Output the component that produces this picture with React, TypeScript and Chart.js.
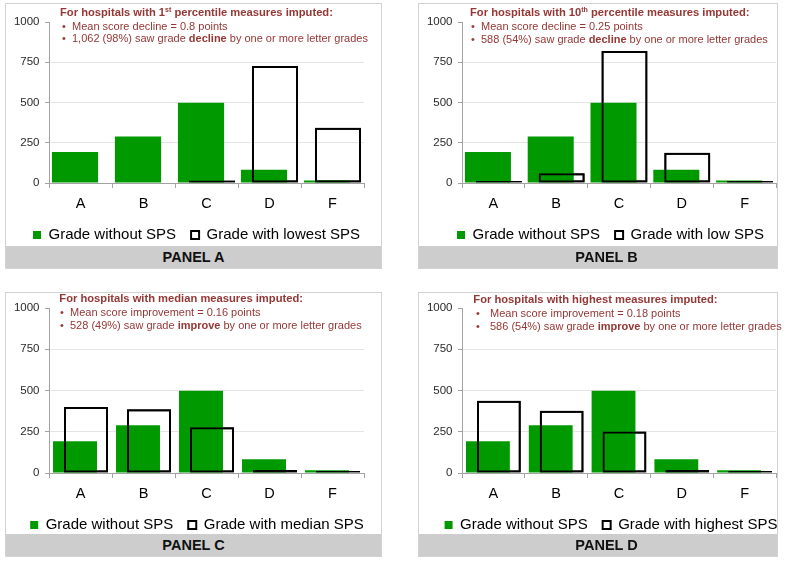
import React, { useEffect, useRef } from 'react';
import { Chart, registerables } from 'chart.js';

Chart.register(...registerables);

// ---------------- data ----------------
const grades = ['A', 'B', 'C', 'D', 'F'];
const yTickValues = [0, 250, 500, 750, 1000];
const gradeWithoutSPS = [192, 289, 498, 83, 16];
const gradeWithLowestSPS = [0, 0, 15, 727, 343];
const gradeWithLowSPS = [3, 60, 820, 188, 10];
const gradeWithMedianSPS = [400, 386, 277, 18, 3];
const gradeWithHighestSPS = [438, 378, 251, 18, 3];

const baseSeriesLabel = 'Grade without SPS';
const compareSeriesLabels = [
  'Grade with lowest SPS',
  'Grade with low SPS',
  'Grade with median SPS',
  'Grade with highest SPS',
];
const panelTitles = ['PANEL A', 'PANEL B', 'PANEL C', 'PANEL D'];
const headingMain = [
  'For hospitals with 1',
  'For hospitals with 10',
  'For hospitals with median measures imputed:',
  'For hospitals with highest measures imputed:',
];
const headingSup = ['st', 'th', '', ''];
const headingTail = [' percentile measures imputed:', ' percentile measures imputed:', '', ''];
const meanScoreNotes = [
  'Mean score decline = 0.8 points',
  'Mean score decline = 0.25 points',
  'Mean score improvement = 0.16 points',
  'Mean score improvement = 0.18 points',
];
const changeCounts = ['1,062 (98%)', '588 (54%)', '528 (49%)', '586 (54%)'];
const changeWords = ['decline', 'decline', 'improve', 'improve'];

const compareSeries = [gradeWithLowestSPS, gradeWithLowSPS, gradeWithMedianSPS, gradeWithHighestSPS];

// ---------------- styling / layout ----------------
const FONT = "'Liberation Sans', Arial, Helvetica, sans-serif";
const GREEN = '#009a00';
const NOTE_COLOR = '#953735';
const AXIS_COLOR = '#a3a3a3';
const GRID_COLOR = '#e4e4e4';

const frames = [
  { left: 5, top: 3, width: 377, height: 266, canvasW: 375, padTop: 18, padLeft: 6, yWidth: 37, rightGap: 17, xHeight: 29.5, padBottom: 15.5, barPct: 4.2, noteTop: 1.7, noteLH: 12, headX: 54, bulletX: 56, textX: 66 },
  { left: 418, top: 3, width: 360, height: 266, canvasW: 380, padTop: 18, padLeft: 3, yWidth: 40, rightGap: 23, xHeight: 29.5, padBottom: 15.5, barPct: 4.2, noteTop: 2.2, noteLH: 13, headX: 51, bulletX: 52, textX: 62 },
  { left: 5, top: 292, width: 377, height: 265, canvasW: 375, padTop: 15, padLeft: 7, yWidth: 36, rightGap: 17, xHeight: 29.5, padBottom: 13.5, barPct: 4.0, noteTop: -0.6, noteLH: 13.3, headX: 53.3, bulletX: 54, textX: 64 },
  { left: 418, top: 292, width: 360, height: 265, canvasW: 380, padTop: 15, padLeft: 4, yWidth: 39, rightGap: 23, xHeight: 29.5, padBottom: 13.5, barPct: 4.0, noteTop: 0.3, noteLH: 13.3, headX: 54.3, bulletX: 57, textX: 71 },
];
const CAT_PCT = 0.349;

const outlineOnTop = {
  id: 'outlineOnTop',
  afterDatasetsDraw(chart: any) {
    const meta = chart.getDatasetMeta(1);
    if (meta && meta.controller) meta.controller.draw();
  },
};

function Panel({ idx }: { idx: number }) {
  const ref = useRef<HTMLCanvasElement | null>(null);
  const f = frames[idx];
  const innerW = f.width - 2;
  const innerH = f.height - 2;

  useEffect(() => {
    if (!ref.current) return;
    const compare = compareSeries[idx];
    const chart = new Chart(ref.current, {
      type: 'bar',
      data: {
        labels: grades,
        datasets: [
          {
            label: baseSeriesLabel,
            data: gradeWithoutSPS,
            backgroundColor: GREEN,
            borderWidth: 0,
            categoryPercentage: CAT_PCT,
            barPercentage: f.barPct,
          },
          {
            label: compareSeriesLabels[idx],
            data: compare.map((v) => (v === 0 ? null : v)),
            backgroundColor: 'rgba(255,255,255,0)',
            borderColor: '#000000',
            borderWidth: 2,
            borderSkipped: false,
            minBarLength: 2,
            categoryPercentage: CAT_PCT,
            barPercentage: f.barPct,
          },
        ],
      } as any,
      options: {
        responsive: false,
        animation: false,
        events: [],
        layout: { padding: { top: f.padTop, left: f.padLeft, right: 0, bottom: f.padBottom } },
        plugins: {
          tooltip: { enabled: false },
          title: { display: false },
          legend: {
            display: true,
            position: 'bottom',
            labels: {
              boxWidth: 8,
              boxHeight: 8,
              padding: 15,
              color: '#000000',
              font: { family: FONT, size: 15 },
            },
          },
        },
        scales: {
          x: {
            type: 'category',
            offset: true,
            grid: {
              display: true,
              offset: true,
              drawOnChartArea: false,
              drawTicks: true,
              tickLength: 5,
              color: AXIS_COLOR,
            },
            border: { display: true, color: AXIS_COLOR, width: 1 },
            ticks: { color: '#000000', padding: 7, font: { family: FONT, size: 14.5 }, maxRotation: 0 },
            afterFit: (s: any) => {
              s.height = f.xHeight;
            },
          },
          y: {
            type: 'linear',
            min: 0,
            max: 1000,
            afterBuildTicks: (s: any) => {
              s.ticks = yTickValues.map((v) => ({ value: v }));
            },
            grid: {
              color: (c: any) => (c.tick && c.tick.value === 1000 ? 'rgba(0,0,0,0)' : GRID_COLOR),
              tickColor: AXIS_COLOR,
              tickLength: 4,
              drawTicks: true,
            },
            border: { display: true, color: AXIS_COLOR, width: 1 },
            ticks: {
              color: '#2a2a2a',
              padding: 5.5,
              font: { family: FONT, size: 11.5 },
              callback: (v: any) => String(v),
            },
            afterFit: (s: any) => {
              s.width = f.yWidth;
            },
          },
          spacer: {
            type: 'linear',
            position: 'right',
            display: true,
            grid: { display: false, drawTicks: false },
            border: { display: false },
            ticks: { display: false },
            afterFit: (s: any) => {
              s.width = f.rightGap;
            },
          },
        },
      } as any,
      plugins: [outlineOnTop],
    });
    return () => chart.destroy();
  }, [idx]);

  return (
    <div
      style={{
        position: 'absolute',
        left: f.left,
        top: f.top,
        width: f.width,
        height: f.height,
        boxSizing: 'border-box',
        border: '1px solid #d2d2d2',
        background: '#ffffff',
      }}
    >
      <canvas
        ref={ref}
        width={f.canvasW}
        height={innerH}
        style={{ position: 'absolute', left: 0, top: 0, width: f.canvasW, height: innerH, zIndex: 1 }}
      />
      <div
        style={{
          position: 'absolute',
          left: 0,
          top: f.noteTop,
          width: innerW + 20,
          fontFamily: FONT,
          fontSize: 11,
          color: NOTE_COLOR,
          lineHeight: `${f.noteLH}px`,
          whiteSpace: 'nowrap',
          pointerEvents: 'none',
          zIndex: 2,
        }}
      >
        <div style={{ position: 'relative', left: f.headX, fontWeight: 'bold', fontSize: 11.2 }}>
          {headingMain[idx]}
          {headingSup[idx] ? (
            <span style={{ fontSize: 7, position: 'relative', top: -4 }}>{headingSup[idx]}</span>
          ) : null}
          {headingTail[idx]}
        </div>
        <div style={{ position: 'relative', height: f.noteLH }}>
          <span style={{ position: 'absolute', left: f.bulletX }}>•</span>
          <span style={{ position: 'absolute', left: f.textX }}>{meanScoreNotes[idx]}</span>
        </div>
        <div style={{ position: 'relative', height: f.noteLH }}>
          <span style={{ position: 'absolute', left: f.bulletX }}>•</span>
          <span style={{ position: 'absolute', left: f.textX }}>
            {changeCounts[idx]} saw grade <b>{changeWords[idx]}</b> by one or more letter grades
          </span>
        </div>
      </div>
      <div
        style={{
          position: 'absolute',
          left: 0,
          bottom: 0,
          width: innerW,
          height: 22,
          background: '#cdcdcd',
          overflow: 'hidden',
          zIndex: 3,
        }}
      >
        <div
          style={{
            position: 'absolute',
            left: 0,
            top: 0,
            width: 375,
            height: 22,
            lineHeight: '22px',
            textAlign: 'center',
            fontFamily: FONT,
            fontWeight: 'bold',
            fontSize: 14.5,
            color: '#111111',
          }}
        >
          {panelTitles[idx]}
        </div>
      </div>
    </div>
  );
}

export default function App() {
  return (
    <div style={{ position: 'absolute', left: 0, top: 0, width: 800, height: 562, background: '#ffffff', overflow: 'hidden' }}>
      {[0, 1, 2, 3].map((i) => (
        <Panel key={i} idx={i} />
      ))}
    </div>
  );
}
